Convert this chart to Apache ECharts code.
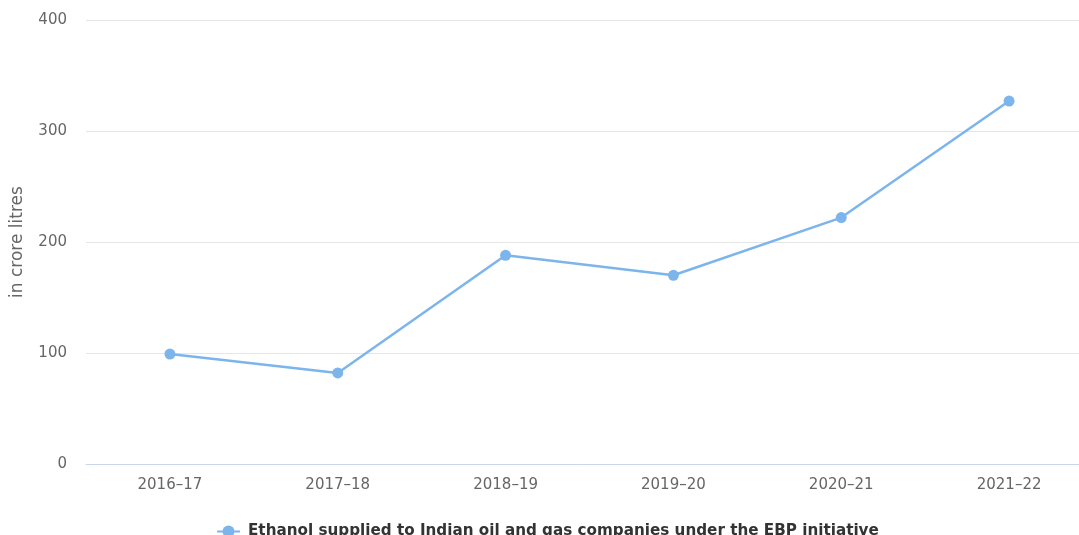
<!DOCTYPE html>
<html>
<head>
<meta charset="utf-8">
<script src="https://cdn.jsdelivr.net/npm/echarts@6/dist/echarts.min.js"></script>
<style>
  html, body { margin: 0; padding: 0; background: #fff; }
  #chart { width: 1079px; height: 535px; }
</style>
</head>
<body>
<div id="chart"></div>
<script>
// Fiscal years on the x axis
const years = ['2016–17', '2017–18', '2018–19', '2019–20', '2020–21', '2021–22'];
// Ethanol supplied, in crore litres
const ethanolSupplied = [99, 82, 188, 170, 222, 327];
// Y axis range and step
const yMin = 0;
const yMax = 400;
const yStep = 100;

const seriesName = 'Ethanol supplied to Indian oil and gas companies under the EBP initiative';
const fontFamily = '"DejaVu Sans", Verdana, sans-serif';

const chart = echarts.init(document.getElementById('chart'), null, { renderer: 'canvas' });

chart.setOption({
  animation: false,
  textStyle: { fontFamily: fontFamily },
  // plot area runs a little past the right edge of the canvas
  grid: {
    left: 86, width: 1007, top: 20, height: 444,
    containLabel: false,
    outerBoundsMode: 'none'
  },
  legend: {
    data: [seriesName],
    bottom: -9,
    left: 211,
    itemWidth: 23,
    itemHeight: 15,
    itemGap: 8,
    textStyle: {
      fontFamily: fontFamily, fontSize: 15.2, fontWeight: 'bold', color: '#333333',
      padding: [0, 0, 0, 3]
    }
  },
  xAxis: {
    type: 'category',
    data: years,
    boundaryGap: true,
    axisLine: { lineStyle: { color: '#ccd6eb', width: 1 } },
    axisTick: { show: false },
    axisLabel: { color: '#666666', fontSize: 15, margin: 14, fontFamily: fontFamily }
  },
  yAxis: {
    type: 'value',
    min: yMin,
    max: yMax,
    interval: yStep,
    name: 'in crore litres',
    nameLocation: 'middle',
    nameGap: 60,
    nameTextStyle: { color: '#666666', fontSize: 17, fontFamily: fontFamily },
    axisLine: { show: false },
    axisTick: { show: false },
    axisLabel: { color: '#666666', fontSize: 15, margin: 19, fontFamily: fontFamily },
    splitLine: { lineStyle: { color: '#e6e6e6', width: 1 } }
  },
  series: [{
    name: seriesName,
    type: 'line',
    data: ethanolSupplied,
    symbol: 'circle',
    symbolSize: 11,
    lineStyle: { color: '#7cb5ec', width: 2.5 },
    itemStyle: { color: '#7cb5ec' },
    emphasis: { disabled: true }
  }]
});
</script>
</body>
</html>
